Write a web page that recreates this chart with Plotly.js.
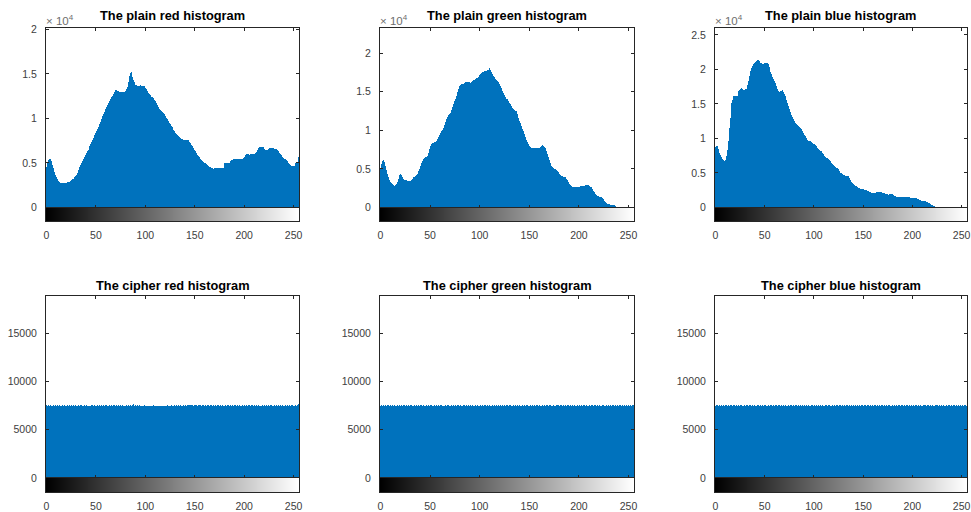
<!DOCTYPE html>
<html>
<head>
<meta charset="utf-8">
<script src="https://cdn.plot.ly/plotly-3.0.1.min.js"></script>
<style>html,body{margin:0;padding:0;background:#fff;}#chart{width:971px;height:512px;}</style>
</head>
<body>
<div id="chart"></div>
<script>
// Gray levels 0..255
const bins = Array.from({length: 256}, (_, i) => i);

const titles = ["The plain red histogram", "The plain green histogram", "The plain blue histogram",
                "The cipher red histogram", "The cipher green histogram", "The cipher blue histogram"];

const xTickVals = [0, 50, 100, 150, 200, 250];
const xTickText = ["0", "50", "100", "150", "200", "250"];

const plainTickVals = [0, 5000, 10000, 15000, 20000, 25000];
const plainTickText = ["0", "0.5", "1", "1.5", "2", "2.5"];
const cipherTickVals = [0, 5000, 10000, 15000];
const cipherTickText = ["0", "5000", "10000", "15000"];

const yMax = [20150, 23250, 26000, 18850, 18850, 18850];

const plainRed = [
4500,5000,5300,5500,5500,5200,4800,4400,4000,3700,
3400,3150,3000,2900,2800,2770,2750,2760,2780,2790,
2800,2850,2850,2900,2950,3070,3150,3250,3400,3500,
3640,3900,4200,4580,4800,5000,5200,5400,5720,5900,
6100,6300,6480,6700,6900,7100,7300,7610,7850,8100,
8370,8600,8800,9050,9320,9600,9950,10260,10500,10750,
11020,11250,11500,11750,11970,12150,12350,12530,12750,13000,
13220,13150,13100,13050,12990,13000,12980,12990,13000,12990,
13100,13300,13490,14100,14810,15100,15260,14620,14300,14050,
13800,13700,13600,13650,13600,13700,13650,13600,13650,13600,
13450,13300,13100,12900,12730,12600,12450,12350,12240,12100,
11950,11780,11550,11300,11100,10950,10800,10700,10650,10450,
10250,10080,9900,9700,9510,9320,9200,9050,8940,8750,
8550,8400,8250,8100,8000,7920,7800,7700,7650,7620,
7610,7600,7590,7580,7580,7400,7200,7050,6850,6650,
6480,6300,6100,5950,5800,5650,5500,5340,5250,5150,
5050,4960,4850,4750,4660,4580,4500,4400,4380,4370,
4400,4400,4380,4400,4420,4430,4430,4420,4430,4430,
4960,4950,4960,4980,4960,5050,5200,5340,5380,5400,
5400,5420,5420,5400,5430,5450,5420,5450,5500,5530,
5700,5850,5990,6000,6010,5950,6010,6000,6010,6010,
6050,6150,6250,6290,6500,6650,6780,6800,6780,6780,
6750,6600,6450,6400,6500,6600,6670,6650,6670,6670,
6650,6600,6580,6560,6450,6300,6100,6000,5850,5720,
5600,5500,5400,5340,5200,5050,4890,4800,4700,4660,
4660,4700,4960,5000,5100,5720];

const plainGreen = [
4990,5600,6000,6150,5900,5420,4800,4300,3910,3600,
3350,3140,3000,2900,2840,2900,3050,3270,3700,4260,
4300,4200,3950,3700,3600,3550,3500,3480,3450,3460,
3480,3550,3700,3910,4000,4100,4200,4350,4700,5050,
5420,5700,6000,6280,6400,6500,6600,6710,7100,7600,
8000,8200,8300,8350,8420,8500,8650,8860,9150,9450,
9710,9900,10100,10250,10360,10700,11100,11440,11700,11950,
12150,12300,12650,13000,13380,13750,14100,14450,14900,15400,
15700,15870,15950,16000,16030,16150,16250,16200,16290,16250,
16200,16160,16250,16350,16470,16550,16650,16750,16810,16950,
17150,17330,17450,17500,17580,17650,17700,17720,17760,17850,
18020,17800,17500,17250,17030,16850,16700,16550,16380,16200,
15950,15740,15450,15150,14870,14600,14300,14100,14020,13800,
13580,13350,13100,12860,12750,12650,12550,12520,12100,11650,
11220,10900,10550,10200,9930,9550,9150,8730,8450,8200,
8000,7850,7750,7700,7700,7720,7750,7760,7740,7760,
7760,7850,8000,8090,8000,7900,7760,7350,6900,6490,
6100,5750,5420,5250,5150,5050,4990,4850,4700,4560,
4400,4250,4130,4050,3980,3950,3910,3700,3500,3270,
3100,2950,2840,2750,2680,2640,2620,2630,2620,2620,
2650,2700,2780,2840,2850,2840,2840,2880,2900,2920,
2880,2800,2720,2620,2450,2200,1980,1800,1650,1550,
1480,1420,1370,1330,1200,1050,900,750,560,480,
420,390,370,360,350,350,300,220,130,80,
40,20,10,5,3,2,1,1,0,0,
0,0,0,0,0,0];

const plainBlue = [
8770,8900,8910,8500,7950,7600,7300,7000,6850,6750,
6900,7470,8300,9630,11500,12980,15140,15600,16090,16150,
16100,16120,16140,16810,17000,17200,17290,17200,17050,17000,
17100,17170,17300,17800,18350,19000,19790,20200,20500,20740,
20900,21120,21200,21300,21370,21200,21000,20900,20850,20840,
20900,21000,21000,20950,20840,20400,19690,19300,18970,18600,
18300,18010,17600,17200,16810,16800,16810,16900,17050,16800,
16450,16090,15600,15100,14660,14250,13850,13460,13100,12800,
12500,12300,12100,11950,11780,11600,11450,11300,11050,10800,
10550,10350,10100,9850,9630,9600,9590,9580,9500,9400,
9250,9150,9000,8850,8670,8500,8350,8250,8190,7950,
7700,7470,7350,7200,7100,7000,6850,6700,6510,6350,
6200,6040,5900,5750,5650,5560,5300,5000,4930,4840,
4750,4680,4600,4550,4520,4500,4300,4000,3700,3490,
3380,3250,3160,3050,2950,2830,2780,2740,2710,2690,
2640,2580,2540,2480,2410,2350,2280,2200,2120,2060,
2060,2060,2060,2120,2180,2200,2200,2200,2190,2200,
2150,2100,2060,2000,1950,1900,1870,1900,1950,1970,
1900,1800,1720,1650,1580,1520,1480,1520,1560,1580,
1580,1580,1580,1560,1530,1500,1480,1450,1420,1400,
1400,1400,1400,1380,1320,1260,1200,1130,1060,1000,
960,930,910,900,850,790,720,630,530,430,
330,250,200,120,60,30,15,8,4,2,
1,1,0,0,0,0,0,0,0,0,
0,0,0,0,0,0,0,0,0,0,
0,0,0,0,0,0];

const cipherRed = [
7512,7468,7535,7490,7553,7441,7506,7579,7462,7518,7497,7530,7455,7589,7503,7476,
7524,7461,7548,7507,7482,7566,7439,7515,7493,7541,7470,7528,7486,7559,7502,7449,
7533,7478,7510,7562,7456,7497,7521,7484,7546,7467,7508,7575,7491,7439,7527,7513,
7488,7551,7472,7506,7534,7463,7598,7495,7520,7447,7539,7481,7512,7566,7459,7502,
7545,7476,7519,7490,7528,7604,7468,7511,7483,7537,7456,7522,7499,7550,7473,7508,
7461,7531,7494,7517,7442,7556,7489,7524,7650,7503,7541,7458,7515,7486,7532,7409,
7426,7498,7452,7515,7437,7481,7466,7502,7428,7491,7447,7476,7512,7435,7469,7483,
7455,7420,7493,7468,7441,7505,7459,7487,7432,7478,7514,7449,7496,7463,7530,7472,
7506,7485,7527,7461,7549,7492,7518,7474,7537,7503,7466,7541,7488,7520,7495,7552,
7519,7578,7526,7611,7543,7498,7562,7529,7585,7507,7548,7533,7569,7491,7524,7556,
7497,7532,7471,7519,7544,7486,7510,7563,7478,7523,7501,7547,7469,7515,7538,7492,
7526,7483,7551,7507,7479,7536,7462,7518,7545,7490,7529,7503,7571,7481,7514,7558,
7493,7521,7468,7540,7505,7487,7552,7474,7516,7499,7534,7462,7527,7548,7480,7511,
7532,7458,7519,7486,7547,7503,7471,7536,7420,7509,7492,7525,7466,7541,7498,7514,
7489,7527,7463,7512,7550,7481,7506,7539,7472,7518,7495,7531,7457,7523,7500,7544,
7508,7474,7536,7495,7521,7462,7548,7487,7513,7530,7469,7504,7541,7492,7526,7690];

const cipherGreen = [
7498,7536,7470,7521,7489,7555,7463,7512,7540,7481,7527,7494,7568,7459,7515,7503,
7477,7532,7506,7549,7468,7520,7491,7537,7511,7456,7528,7499,7546,7483,7517,7560,
7509,7472,7538,7495,7524,7461,7553,7487,7516,7530,7478,7542,7501,7466,7526,7492,
7535,7481,7513,7557,7474,7507,7529,7464,7548,7496,7519,7485,7533,7571,7458,7504,
7522,7490,7547,7469,7514,7538,7482,7505,7551,7476,7520,7498,7534,7463,7527,7510,
7486,7543,7500,7465,7531,7517,7479,7556,7493,7512,7440,7525,7488,7541,7470,7508,
7519,7477,7536,7502,7461,7529,7494,7548,7483,7510,7535,7466,7521,7499,7552,7484,
7507,7539,7473,7516,7495,7530,7458,7524,7502,7547,7480,7513,7491,7536,7467,7520,
7533,7489,7512,7561,7476,7504,7527,7492,7545,7469,7518,7501,7538,7483,7509,7550,
7496,7524,7462,7515,7537,7488,7506,7543,7471,7528,7499,7520,7455,7532,7511,7486,
7541,7503,7478,7526,7494,7557,7468,7513,7530,7487,7519,7545,7462,7508,7535,7497,
7475,7529,7510,7548,7483,7516,7539,7464,7522,7501,7544,7479,7512,7531,7490,7559,
7514,7482,7537,7498,7526,7470,7509,7552,7486,7523,7460,7536,7504,7518,7547,7473,
7529,7507,7468,7542,7491,7517,7534,7480,7511,7558,7495,7521,7466,7539,7502,7485,
7516,7544,7489,7506,7530,7472,7525,7498,7553,7484,7512,7537,7469,7520,7505,7541,
7493,7527,7510,7476,7546,7501,7519,7463,7535,7488,7523,7506,7549,7482,7514,7530];

const cipherBlue = [
7486,7521,7547,7492,7515,7468,7533,7504,7559,7477,7512,7540,7489,7525,7461,7518,
7537,7495,7510,7552,7474,7528,7501,7543,7466,7519,7535,7483,7507,7561,7490,7524,
7503,7546,7478,7516,7531,7489,7522,7457,7538,7508,7494,7527,7550,7471,7513,7499,
7529,7482,7519,7541,7496,7506,7563,7475,7523,7511,7487,7534,7468,7517,7545,7502,
7514,7538,7470,7525,7500,7549,7484,7520,7509,7473,7536,7497,7528,7556,7479,7511,
7491,7526,7553,7488,7517,7463,7532,7505,7544,7481,7515,7498,7539,7472,7524,7507,
7548,7476,7512,7535,7493,7520,7466,7527,7501,7557,7486,7519,7442,7531,7509,7495,
7522,7540,7487,7513,7558,7479,7506,7534,7469,7525,7497,7543,7511,7484,7530,7516,
7472,7518,7503,7546,7490,7529,7515,7477,7537,7504,7560,7488,7521,7495,7542,7465,
7533,7499,7526,7481,7514,7547,7493,7510,7532,7474,7519,7551,7485,7528,7506,7540,
7508,7485,7539,7520,7462,7531,7496,7554,7478,7512,7527,7491,7545,7503,7517,7483,
7526,7557,7494,7509,7536,7475,7521,7499,7542,7486,7513,7534,7468,7525,7547,7490,
7511,7473,7528,7550,7487,7516,7503,7539,7464,7522,7496,7541,7518,7482,7533,7507,
7545,7502,7479,7524,7511,7536,7489,7515,7552,7470,7529,7494,7538,7506,7461,7527,
7497,7532,7518,7484,7543,7505,7566,7488,7520,7509,7476,7531,7499,7548,7514,7483,
7519,7490,7537,7513,7471,7526,7508,7544,7495,7523,7481,7540,7502,7516,7534,7497];

const series = [plainRed, plainGreen, plainBlue, cipherRed, cipherGreen, cipherBlue];

// ---------- layout geometry ----------
const W = 971, H = 512;
const colPx = [[46, 299], [380, 634], [715, 967]];
const rowPx = [ {top: 28, zero: 207.5, cbBottom: 221, title: 15.5},
                {top: 296, zero: 478, cbBottom: 492, title: 285.5} ];
const fx = px => px / W;
const fy = py => 1 - py / H;

const axisColor = '#262626';
const fontFam = '"Liberation Sans", Arial, Helvetica, sans-serif';

const data = [];
const layout = {
  width: W, height: H,
  margin: {l: 0, r: 0, t: 0, b: 0},
  paper_bgcolor: '#ffffff', plot_bgcolor: '#ffffff',
  showlegend: false, hovermode: false, bargap: 0,
  font: {family: fontFam, size: 10.5, color: '#404040'},
  annotations: []
};

for (let i = 0; i < 6; i++) {
  const r = Math.floor(i / 3), c = i % 3;
  const hx = 2 * i + 1, cx = 2 * i + 2;
  const xd = [fx(colPx[c][0]), fx(colPx[c][1])];
  const isPlain = r === 0;
  const tv = isPlain ? plainTickVals.filter(v => v <= yMax[i]) : cipherTickVals;
  const tt = isPlain ? plainTickText.slice(0, tv.length) : cipherTickText;

  data.push({
    type: 'bar', x: bins, y: series[i],
    xaxis: 'x' + hx, yaxis: 'y' + hx,
    marker: {color: '#0072BD', line: {width: 0}},
    width: 1
  });
  data.push({
    type: 'heatmap', x: bins, y: [0], z: [bins],
    xaxis: 'x' + cx, yaxis: 'y' + cx,
    colorscale: [[0, '#000000'], [1, '#ffffff']],
    zmin: 0, zmax: 255, showscale: false
  });

  const common = {
    showgrid: false, zeroline: false, showline: true,
    linecolor: axisColor, linewidth: 1, tickcolor: axisColor,
    ticks: 'inside', ticklen: 3, fixedrange: true
  };

  layout['xaxis' + hx] = Object.assign({}, common, {
    domain: xd, anchor: 'y' + hx, range: [-0.5, 255.5],
    tickvals: xTickVals, showticklabels: false, mirror: 'ticks'
  });
  layout['yaxis' + hx] = Object.assign({}, common, {
    domain: [fy(rowPx[r].zero), fy(rowPx[r].top)], anchor: 'x' + hx,
    range: [0, yMax[i]], tickvals: tv, ticktext: tt, mirror: 'ticks',
    ticklabelstandoff: 6
  });
  layout['xaxis' + cx] = Object.assign({}, common, {
    domain: xd, anchor: 'y' + cx, range: [-0.5, 255.5],
    tickvals: xTickVals, ticktext: xTickText, mirror: true,
    ticks: '', ticklabelstandoff: 4
  });
  layout['yaxis' + cx] = Object.assign({}, common, {
    domain: [fy(rowPx[r].cbBottom), fy(rowPx[r].zero)], anchor: 'x' + cx,
    range: [-0.5, 0.5], showticklabels: false, ticks: '', mirror: true
  });

  layout.annotations.push({
    xref: 'paper', yref: 'paper',
    x: (xd[0] + xd[1]) / 2, y: fy(rowPx[r].title),
    xanchor: 'center', yanchor: 'middle', showarrow: false,
    text: '<b>' + titles[i] + '</b>',
    font: {family: fontFam, size: 12.8, color: '#000000'}
  });
  if (isPlain) {
    layout.annotations.push({
      xref: 'paper', yref: 'paper',
      x: xd[0] - 0.002, y: fy(rowPx[r].top + 1),
      xanchor: 'left', yanchor: 'bottom', showarrow: false,
      text: '× 10<sup>4</sup>',
      font: {family: fontFam, size: 11.5, color: '#6e6e6e'}
    });
  }
}

Plotly.newPlot('chart', data, layout, {staticPlot: true, displayModeBar: false});
</script>
</body>
</html>
